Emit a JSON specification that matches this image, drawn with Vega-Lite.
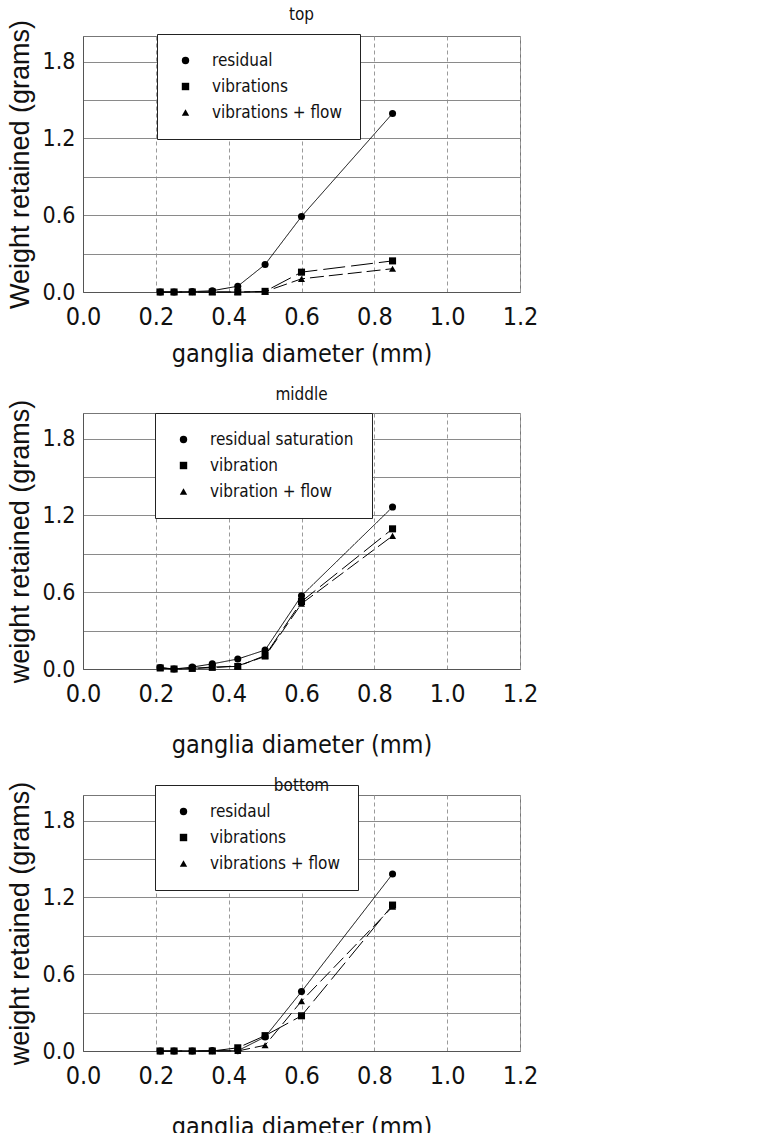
{
  "$schema": "https://vega.github.io/schema/vega-lite/v6.json",
  "padding": 5,
  "background": "white",
  "spacing": 18,
  "config": {
    "font": "DejaVu Sans Condensed, Liberation Sans",
    "view": {"stroke": "#777", "strokeWidth": 1},
    "title": {"font": "DejaVu Sans Condensed, Liberation Sans", "fontSize": 17, "fontWeight": "normal", "color": "#111"},
    "axis": {
      "labelFont": "DejaVu Sans Condensed, Liberation Sans",
      "labelColor": "#111",
      "titleFont": "DejaVu Sans Condensed, Liberation Sans",
      "titleFontWeight": "normal",
      "titleColor": "#111",
      "domainColor": "#555",
      "ticks": false,
      "gridColor": "#8a8a8a",
      "gridWidth": 1
    },
    "legend": {
      "labelFont": "DejaVu Sans Condensed, Liberation Sans",
      "labelFontSize": 17,
      "labelColor": "#111",
      "fillColor": "white",
      "strokeColor": "#222",
      "padding": 18,
      "rowPadding": 8,
      "symbolOffset": 2,
      "labelOffset": 18,
      "symbolSize": 55,
      "symbolFillColor": "black",
      "symbolStrokeColor": "black",
      "orient": "none"
    }
  },
  "resolve": {
    "scale": {"shape": "independent", "strokeDash": "independent"},
    "legend": {"shape": "independent", "strokeDash": "independent"}
  },
  "vconcat": [
    {
      "title": {"text": "top", "offset": -5},
      "width": 437,
      "height": 256,
      "data": {"values": [
        {"d": 0.212, "w": 0.0, "s": "residual"},
        {"d": 0.25, "w": 0.0, "s": "residual"},
        {"d": 0.3, "w": 0.003, "s": "residual"},
        {"d": 0.355, "w": 0.01, "s": "residual"},
        {"d": 0.425, "w": 0.045, "s": "residual"},
        {"d": 0.5, "w": 0.215, "s": "residual"},
        {"d": 0.6, "w": 0.59, "s": "residual"},
        {"d": 0.85, "w": 1.395, "s": "residual"},
        {"d": 0.212, "w": 0.0, "s": "vibrations"},
        {"d": 0.25, "w": 0.0, "s": "vibrations"},
        {"d": 0.3, "w": 0.0, "s": "vibrations"},
        {"d": 0.355, "w": 0.0, "s": "vibrations"},
        {"d": 0.425, "w": 0.0, "s": "vibrations"},
        {"d": 0.5, "w": 0.005, "s": "vibrations"},
        {"d": 0.6, "w": 0.155, "s": "vibrations"},
        {"d": 0.85, "w": 0.243, "s": "vibrations"},
        {"d": 0.212, "w": 0.0, "s": "vibrations + flow"},
        {"d": 0.25, "w": 0.0, "s": "vibrations + flow"},
        {"d": 0.3, "w": 0.0, "s": "vibrations + flow"},
        {"d": 0.355, "w": 0.0, "s": "vibrations + flow"},
        {"d": 0.425, "w": 0.0, "s": "vibrations + flow"},
        {"d": 0.5, "w": 0.003, "s": "vibrations + flow"},
        {"d": 0.6, "w": 0.103, "s": "vibrations + flow"},
        {"d": 0.85, "w": 0.182, "s": "vibrations + flow"}
      ]},
      "encoding": {
        "x": {"field": "d", "type": "quantitative", "scale": {"domain": [0, 1.2], "nice": false},
          "axis": {"values": [0, 0.2, 0.4, 0.6, 0.8, 1.0, 1.2], "format": ".1f", "title": "ganglia diameter (mm)",
            "labelFontSize": 25, "labelPadding": 12, "titleFontSize": 25, "titlePadding": 12,
            "gridDash": [4, 3], "gridColor": "#9a9a9a", "labelFlush": false}},
        "y": {"field": "w", "type": "quantitative", "scale": {"domain": [0, 2.0], "nice": false},
          "axis": {"values": [0, 0.3, 0.6, 0.9, 1.2, 1.5, 1.8], "format": ".1f",
            "labelExpr": "(datum.label == '0.0' || datum.label == '0.6' || datum.label == '1.2' || datum.label == '1.8') ? datum.label : ''",
            "title": "Weight retained (grams)", "titleFont": "Liberation Sans", "titleFontSize": 27,
            "labelFontSize": 23, "labelPadding": 8, "titlePadding": 8}}
      },
      "layer": [
        {"mark": {"type": "line", "color": "black", "strokeWidth": 1},
          "encoding": {"strokeDash": {"field": "s", "type": "nominal",
            "scale": {"domain": ["residual", "vibrations", "vibrations + flow"], "range": [[1, 0], [22, 6], [14, 5]]},
            "legend": {"title": null, "legendX": 74, "legendY": -2}}}},
        {"mark": {"type": "point", "filled": true, "color": "black", "size": 50, "opacity": 1},
          "encoding": {"shape": {"field": "s", "type": "nominal",
            "scale": {"domain": ["residual", "vibrations", "vibrations + flow"], "range": ["circle", "square", "triangle-up"]},
            "legend": {"title": null, "legendX": 74, "legendY": -2}}}}
      ]
    },
    {
      "title": {"text": "middle", "offset": -5},
      "width": 437,
      "height": 256,
      "data": {"values": [
        {"d": 0.212, "w": 0.012, "s": "residual saturation"},
        {"d": 0.25, "w": 0.0, "s": "residual saturation"},
        {"d": 0.3, "w": 0.015, "s": "residual saturation"},
        {"d": 0.355, "w": 0.04, "s": "residual saturation"},
        {"d": 0.425, "w": 0.078, "s": "residual saturation"},
        {"d": 0.5, "w": 0.148, "s": "residual saturation"},
        {"d": 0.6, "w": 0.572, "s": "residual saturation"},
        {"d": 0.85, "w": 1.265, "s": "residual saturation"},
        {"d": 0.212, "w": 0.008, "s": "vibration"},
        {"d": 0.25, "w": 0.0, "s": "vibration"},
        {"d": 0.3, "w": 0.005, "s": "vibration"},
        {"d": 0.355, "w": 0.015, "s": "vibration"},
        {"d": 0.425, "w": 0.02, "s": "vibration"},
        {"d": 0.5, "w": 0.105, "s": "vibration"},
        {"d": 0.6, "w": 0.527, "s": "vibration"},
        {"d": 0.85, "w": 1.095, "s": "vibration"},
        {"d": 0.212, "w": 0.008, "s": "vibration + flow"},
        {"d": 0.25, "w": 0.0, "s": "vibration + flow"},
        {"d": 0.3, "w": 0.004, "s": "vibration + flow"},
        {"d": 0.355, "w": 0.01, "s": "vibration + flow"},
        {"d": 0.425, "w": 0.025, "s": "vibration + flow"},
        {"d": 0.5, "w": 0.098, "s": "vibration + flow"},
        {"d": 0.6, "w": 0.51, "s": "vibration + flow"},
        {"d": 0.85, "w": 1.04, "s": "vibration + flow"}
      ]},
      "encoding": {
        "x": {"field": "d", "type": "quantitative", "scale": {"domain": [0, 1.2], "nice": false},
          "axis": {"values": [0, 0.2, 0.4, 0.6, 0.8, 1.0, 1.2], "format": ".1f", "title": "ganglia diameter (mm)",
            "labelFontSize": 25, "labelPadding": 12, "titleFontSize": 25, "titlePadding": 26,
            "gridDash": [4, 3], "gridColor": "#9a9a9a", "labelFlush": false}},
        "y": {"field": "w", "type": "quantitative", "scale": {"domain": [0, 2.0], "nice": false},
          "axis": {"values": [0, 0.3, 0.6, 0.9, 1.2, 1.5, 1.8], "format": ".1f",
            "labelExpr": "(datum.label == '0.0' || datum.label == '0.6' || datum.label == '1.2' || datum.label == '1.8') ? datum.label : ''",
            "title": "weight retained (grams)", "titleFont": "Liberation Sans", "titleFontSize": 27,
            "labelFontSize": 23, "labelPadding": 8, "titlePadding": 8}}
      },
      "layer": [
        {"mark": {"type": "line", "color": "black", "strokeWidth": 1},
          "encoding": {"strokeDash": {"field": "s", "type": "nominal",
            "scale": {"domain": ["residual saturation", "vibration", "vibration + flow"], "range": [[1, 0], [22, 6], [14, 5]]},
            "legend": {"title": null, "legendX": 72, "legendY": 0}}}},
        {"mark": {"type": "point", "filled": true, "color": "black", "size": 50, "opacity": 1},
          "encoding": {"shape": {"field": "s", "type": "nominal",
            "scale": {"domain": ["residual saturation", "vibration", "vibration + flow"], "range": ["circle", "square", "triangle-up"]},
            "legend": {"title": null, "legendX": 72, "legendY": 0}}}}
      ]
    },
    {
      "title": {"text": "bottom", "offset": -14},
      "width": 437,
      "height": 256,
      "data": {"values": [
        {"d": 0.212, "w": 0.0, "s": "residaul"},
        {"d": 0.25, "w": 0.0, "s": "residaul"},
        {"d": 0.3, "w": 0.0, "s": "residaul"},
        {"d": 0.355, "w": 0.003, "s": "residaul"},
        {"d": 0.425, "w": 0.002, "s": "residaul"},
        {"d": 0.5, "w": 0.11, "s": "residaul"},
        {"d": 0.6, "w": 0.464, "s": "residaul"},
        {"d": 0.85, "w": 1.383, "s": "residaul"},
        {"d": 0.212, "w": 0.0, "s": "vibrations"},
        {"d": 0.25, "w": 0.0, "s": "vibrations"},
        {"d": 0.3, "w": 0.0, "s": "vibrations"},
        {"d": 0.355, "w": 0.0, "s": "vibrations"},
        {"d": 0.425, "w": 0.025, "s": "vibrations"},
        {"d": 0.5, "w": 0.12, "s": "vibrations"},
        {"d": 0.6, "w": 0.275, "s": "vibrations"},
        {"d": 0.85, "w": 1.14, "s": "vibrations"},
        {"d": 0.212, "w": 0.0, "s": "vibrations + flow"},
        {"d": 0.25, "w": 0.0, "s": "vibrations + flow"},
        {"d": 0.3, "w": 0.0, "s": "vibrations + flow"},
        {"d": 0.355, "w": 0.0, "s": "vibrations + flow"},
        {"d": 0.425, "w": 0.0, "s": "vibrations + flow"},
        {"d": 0.5, "w": 0.045, "s": "vibrations + flow"},
        {"d": 0.6, "w": 0.39, "s": "vibrations + flow"},
        {"d": 0.85, "w": 1.127, "s": "vibrations + flow"}
      ]},
      "encoding": {
        "x": {"field": "d", "type": "quantitative", "scale": {"domain": [0, 1.2], "nice": false},
          "axis": {"values": [0, 0.2, 0.4, 0.6, 0.8, 1.0, 1.2], "format": ".1f", "title": "ganglia diameter (mm)",
            "labelFontSize": 25, "labelPadding": 12, "titleFontSize": 25, "titlePadding": 26,
            "gridDash": [4, 3], "gridColor": "#9a9a9a", "labelFlush": false}},
        "y": {"field": "w", "type": "quantitative", "scale": {"domain": [0, 2.0], "nice": false},
          "axis": {"values": [0, 0.3, 0.6, 0.9, 1.2, 1.5, 1.8], "format": ".1f",
            "labelExpr": "(datum.label == '0.0' || datum.label == '0.6' || datum.label == '1.2' || datum.label == '1.8') ? datum.label : ''",
            "title": "weight retained (grams)", "titleFont": "Liberation Sans", "titleFontSize": 27,
            "labelFontSize": 23, "labelPadding": 8, "titlePadding": 8}}
      },
      "layer": [
        {"mark": {"type": "line", "color": "black", "strokeWidth": 1},
          "encoding": {"strokeDash": {"field": "s", "type": "nominal",
            "scale": {"domain": ["residaul", "vibrations", "vibrations + flow"], "range": [[1, 0], [22, 6], [14, 5]]},
            "legend": {"title": null, "legendX": 72, "legendY": -10}}}},
        {"mark": {"type": "point", "filled": true, "color": "black", "size": 50, "opacity": 1},
          "encoding": {"shape": {"field": "s", "type": "nominal",
            "scale": {"domain": ["residaul", "vibrations", "vibrations + flow"], "range": ["circle", "square", "triangle-up"]},
            "legend": {"title": null, "legendX": 72, "legendY": -10}}}}
      ]
    }
  ]
}
